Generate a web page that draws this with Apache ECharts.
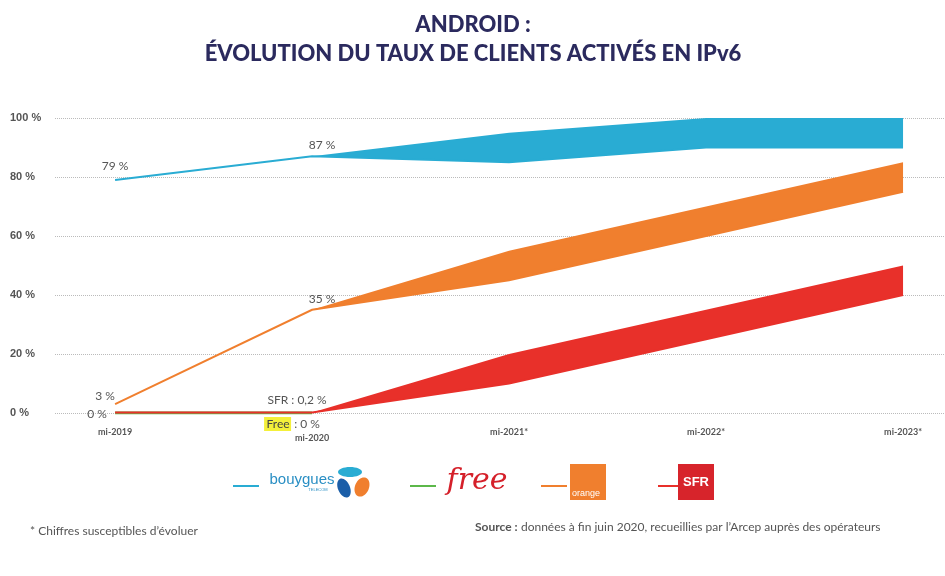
<!DOCTYPE html><html><head><meta charset="utf-8">
<script src="https://cdn.jsdelivr.net/npm/echarts@6/dist/echarts.min.js"></script>
<style>body{margin:0}#c{width:945px;height:576px}</style></head><body><div id="c"></div>
<script>
const categories=['mi-2019','mi-2020','mi-2021*','mi-2022*','mi-2023*'];
const bouyLow=[79,87,85,90,90], bouyHigh=[79,87,95,100,100];
const orangeLow=[3,35,45,60,75], orangeHigh=[3,35,55,70,85];
const sfrLow=[0.2,0.2,10,25,40], sfrHigh=[0.2,0.2,20,35,50];
const freeVals=[0,0];
const bouyLabels=['79 %','87 %','85 à 95 %','90 à 100 %','90 à 100 %'];
const orangeLabels=['','35 %','45 à 55 %','60 à 70 %','75 à 85 %'];
const sfrLabels=['','','10 à 20 %','25 à 35 %','40 à 50 %'];
const C={b:'#29acd3',o:'#f07f2e',s:'#e8302a',f:'#5cb84a'};
const chart=echarts.init(document.getElementById('c'));
function band(low,high,color,z){
  return {type:'custom',z,data:low.map((v,i)=>[i,v,high[i]]),renderItem:(params,api)=>{
    if(params.dataIndex!==0)return null;
    const top=high.map((h,i)=>api.coord([i,h]));
    const bot=low.map((l,i)=>api.coord([i,l])).reverse();
    return {type:'group',children:[
      {type:'polygon',shape:{points:top.concat(bot)},style:{fill:color}},
      {type:'polyline',shape:{points:low.map((l,i)=>api.coord([i,l]))},style:{stroke:color,lineWidth:2,fill:null}}]};
  }};
}
chart.setOption({
 animation:false,
 title:{text:'ANDROID :\nÉVOLUTION DU TAUX DE CLIENTS ACTIVÉS EN IPv6',left:468,textAlign:'center',top:5,
   textStyle:{fontSize:22,fontWeight:900,color:'#2b2a5e',lineHeight:29,fontFamily:'Lato'}},
 grid:{left:55,right:0,top:118,bottom:163},
 xAxis:{type:'value',min:-0.305,max:4.213,show:false},
 yAxis:{type:'value',min:0,max:100,interval:20,axisLine:{show:false},axisTick:{show:false},
   splitLine:{lineStyle:{type:'dotted',color:'#bbb'}},
   axisLabel:{formatter:v=>v+' %',color:'#555',fontWeight:'bold',fontSize:11,align:'left',margin:45}},
 series:[
  band(bouyLow,bouyHigh,C.b,3),
  band(orangeLow,orangeHigh,C.o,3),
  {type:'line',data:freeVals.map((v,i)=>[i,v]),symbol:'none',lineStyle:{color:C.f,width:3},z:2},
  band(sfrLow,sfrHigh,C.s,4)
 ]
});
const g=[];
const px=(i,v)=>chart.convertToPixel({gridIndex:0},[i,v]);
const T=(x,y,text,o)=>g.push(Object.assign({type:'text',x,y,style:Object.assign({text,fill:'#555',font:'12px Lato',textAlign:'center',textVerticalAlign:'middle'},o||{})}));
categories.forEach((c,i)=>{const p=px(i,0);T(p[0],p[1]+(i==1?25:19),c,{font:'bold 9px Lato',fill:'#555'});});
function lbl(labels,low,high){labels.forEach((l,i)=>{if(!l)return;
  if(low[i]===high[i]){const p=px(i,high[i]);T(p[0]+(i==0?0:10),p[1]-(i==0?14:11),l,{font:'12px Lato'});}
  else{const p=px(i,(low[i]+high[i])/2);T(i==4?p[0]-38:p[0],p[1],l,{fill:'#fff',font:'bold 12px Lato'});}});}
lbl(bouyLabels,bouyLow,bouyHigh);lbl(orangeLabels,orangeLow,orangeHigh);lbl(sfrLabels,sfrLow,sfrHigh);
let p0=px(0,0);T(p0[0]-18,p0[1]+1,'0 %');T(p0[0]-10,p0[1]-17,'3 %');
let p1=px(1,0);T(p1[0]-15,p1[1]-13,'SFR : 0,2 %',{font:'12px Lato'});
g.push({type:'rect',shape:{x:p1[0]-48,y:p1[1]+4,width:27,height:14},style:{fill:'#f4f03a'}});
T(p1[0]-34,p1[1]+11,'Free',{font:'12px Lato',fill:'#444'});T(p1[0]-5,p1[1]+11,': 0 %',{font:'12px Lato'});
const ly=486;
[[233,C.b],[410,C.f],[541,C.o],[658,C.s]].forEach(([x,c])=>g.push({type:'line',shape:{x1:x,y1:ly,x2:x+26,y2:ly},style:{stroke:c,lineWidth:2}}));
T(302,480,'bouygues',{fill:'#2a8fc4',font:'15px Arial'});T(318,490,'TELECOM',{fill:'#2a8fc4',font:'4px Arial'});
g.push({type:'ellipse',shape:{cx:350,cy:472,rx:12,ry:5},style:{fill:'#29acd3'}});
g.push({type:'ellipse',shape:{cx:344,cy:488,rx:6,ry:10},rotation:0.4,originX:344,originY:488,style:{fill:'#1b5ea8'}});
g.push({type:'ellipse',shape:{cx:362,cy:487,rx:7,ry:10},rotation:-0.4,originX:362,originY:487,style:{fill:'#f07f2e'}});
T(477,481,'free',{fill:'#d5202a',font:'italic 30px "DejaVu Serif"'});
g.push({type:'rect',shape:{x:570,y:464,width:36,height:36},style:{fill:'#f07f2e'}});
T(586,494,'orange',{fill:'#fff',font:'9px Arial'});
g.push({type:'rect',shape:{x:678,y:464,width:36,height:36},style:{fill:'#d7242b'}});
T(696,482,'SFR',{fill:'#fff',font:'bold 13px Arial'});
T(30,531,'* Chiffres susceptibles d\u2019évoluer',{textAlign:'left',font:'12px Lato',fill:'#555'});
g.push({type:'text',x:475,y:527,style:{rich:{a:{font:'bold 12px Lato',fill:'#555'},b:{font:'12px Lato',fill:'#555'}},text:'{a|Source :} {b|données à fin juin 2020, recueillies par l\u2019Arcep auprès des opérateurs}',textVerticalAlign:'middle'}});
chart.setOption({graphic:g});
</script></body></html>
